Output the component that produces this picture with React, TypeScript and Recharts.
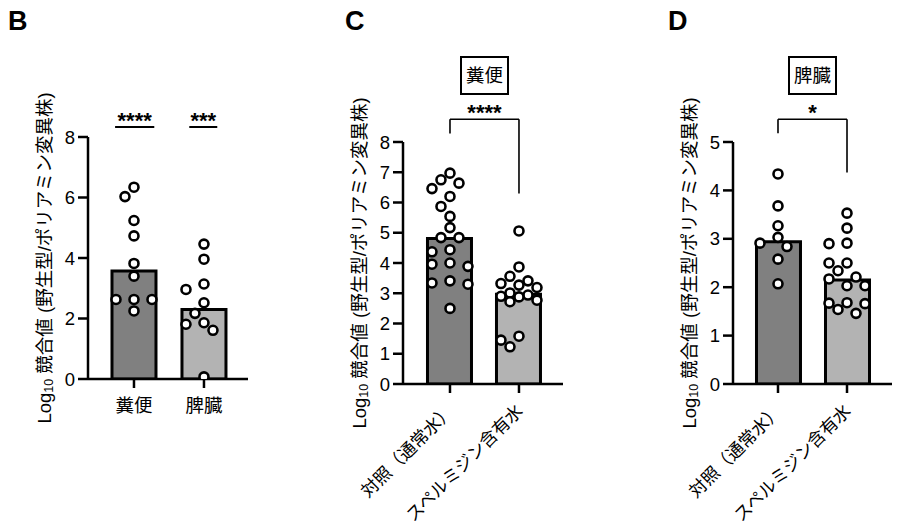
import React from 'react';
import { ComposedChart, Bar, Cell, Scatter, XAxis, YAxis, ReferenceLine } from 'recharts';

const FONT = '"Liberation Sans", Arial, "Noto Sans CJK JP", sans-serif';
const BAR_COLORS = ['#808080', '#b3b3b3'];

// panel B
const bLabels = ['糞便', '脾臓'];
const bMedians = [3.57, 2.3];
const bFeces = [6.34, 6.03, 5.24, 4.73, 3.82, 3.4, 2.63, 2.63, 2.63, 2.25];
const bSpleen = [4.46, 3.96, 3.14, 2.96, 2.52, 2.17, 1.86, 1.81, 1.61, 0.07];
const bStars = ['****', '***'];

// panels C and D share the groups
const groupLabels = ['対照（通常水）', 'スペルミジン含有水'];

// panel C (feces)
const cMedians = [4.81, 2.97];
const cControl = [6.97, 6.75, 6.64, 6.46, 6.2, 5.87, 5.54, 5.17, 4.84, 4.84, 4.44, 4.37, 4.0, 3.96, 3.89, 3.41, 3.34, 3.3, 2.5];
const cSpermidine = [5.06, 3.87, 3.56, 3.41, 3.32, 3.27, 3.19, 3.01, 2.94, 2.9, 2.88, 2.77, 2.72, 1.58, 1.45, 1.23];
const cStars = '****';

// panel D (spleen)
const dMedians = [2.94, 2.15];
const dControl = [4.34, 3.68, 3.27, 3.03, 2.91, 2.84, 2.58, 2.07];
const dSpermidine = [3.53, 3.22, 2.91, 2.9, 2.5, 2.5, 2.34, 2.21, 2.17, 2.03, 2.03, 1.68, 1.67, 1.66, 1.54, 1.46];
const dStars = '*';

const H = 529;
const Y_AXIS_W = 40;
const X_AXIS_H = 60;

// simple beeswarm: try lanes 0, -9, +9, -18, +18 and keep the first free one,
// otherwise the lane with the most room
function swarm(values: number[], pxPerUnit: number) {
  const placed: { x: number; y: number }[] = [];
  const lanes = [0, -9, 9, -18, 18];
  const minDist = 11;
  return values.map((v) => {
    const y = v * pxPerUnit;
    let best = 0;
    let bestRoom = -1;
    for (const dx of lanes) {
      const room = placed.reduce((m, p) => Math.min(m, Math.hypot(p.x - dx, p.y - y)), Infinity);
      if (room >= minDist) {
        best = dx;
        break;
      }
      if (room > bestRoom) {
        bestRoom = room;
        best = dx;
      }
    }
    placed.push({ x: best, y });
    return best;
  });
}

function Dot(props: any) {
  const { cx, cy, payload } = props;
  return <circle cx={cx + payload.dx} cy={cy} r={4.5} fill="#fff" stroke="#000" strokeWidth={2.6} />;
}

function YLabel(props: any) {
  const { viewBox } = props;
  const cx = viewBox.x + viewBox.width - 44;
  const cy = viewBox.y + viewBox.height / 2;
  return (
    <text x={cx} y={cy} transform={`rotate(-90 ${cx} ${cy})`} textAnchor="middle" dominantBaseline="central" fontSize={18.5} fill="#000">
      Log<tspan fontSize={12.5} dy={5}>10</tspan>
      <tspan dy={-5}> 競合値 (野生型/ポリアミン変異株)</tspan>
    </text>
  );
}

function Stars(props: any) {
  const { viewBox, text } = props;
  const x = viewBox.x + viewBox.width / 2;
  return (
    <text x={x} y={viewBox.y + 1} textAnchor="middle" fontSize={22} fontWeight="bold" fill="#000">
      {text}
    </text>
  );
}

function FlatTick(props: any) {
  const { x, y, payload, labels } = props;
  return (
    <text x={x} y={y + 22} textAnchor="middle" fontSize={18.5} fill="#000">
      {labels[payload.value]}
    </text>
  );
}

function SlantTick(props: any) {
  const { x, y, payload, labels } = props;
  const ax = x + 5;
  const ay = y + 17;
  return (
    <text x={ax} y={ay} transform={`rotate(-45 ${ax} ${ay})`} textAnchor="end" fontSize={17.5} fill="#000">
      {labels[payload.value]}
    </text>
  );
}

type PanelProps = {
  left: number;
  width: number;
  plotLeft: number;
  plotRight: number;
  plotTop: number;
  plotBottom: number;
  xDomain: [number, number];
  yMax: number;
  yTicks: number[];
  labels: string[];
  medians: number[];
  groups: number[][];
  slanted: boolean;
  marks: React.ReactNode;
};

function Panel(p: PanelProps) {
  const pxPerUnit = (p.plotBottom - p.plotTop) / p.yMax;
  const barData = p.medians.map((m, i) => ({ x: i, y: m }));
  const dots = p.groups.flatMap((vals, gi) => {
    const offs = swarm(vals, pxPerUnit);
    return vals.map((v, i) => ({ x: gi, y: v, dx: offs[i] }));
  });
  const margin = {
    top: p.plotTop,
    left: p.plotLeft - p.left - Y_AXIS_W,
    right: p.left + p.width - p.plotRight,
    bottom: H - p.plotBottom - X_AXIS_H,
  };
  const Tick = p.slanted ? SlantTick : FlatTick;
  return (
    <div style={{ position: 'absolute', left: p.left, top: 0 }}>
      <ComposedChart width={p.width} height={H} data={barData} margin={margin} style={{ fontFamily: FONT }}>
        <XAxis
          type="number"
          dataKey="x"
          domain={p.xDomain}
          ticks={[0, 1]}
          interval={0}
          allowDataOverflow
          height={X_AXIS_H}
          axisLine={{ stroke: '#000', strokeWidth: 2.5 }}
          tickLine={{ stroke: '#000', strokeWidth: 2.5 }}
          tickSize={9}
          tick={<Tick labels={p.labels} />}
        />
        <YAxis
          type="number"
          domain={[0, p.yMax]}
          ticks={p.yTicks}
          allowDataOverflow
          width={Y_AXIS_W}
          axisLine={{ stroke: '#000', strokeWidth: 2.5 }}
          tickLine={{ stroke: '#000', strokeWidth: 2.5 }}
          tickSize={10}
          tickMargin={3}
          tick={{ fontSize: 18.5, fill: '#000' }}
          label={<YLabel />}
        />
        <Bar dataKey="y" barSize={44} stroke="#000" strokeWidth={3} isAnimationActive={false}>
          {barData.map((d, i) => (
            <Cell key={i} fill={BAR_COLORS[i]} />
          ))}
        </Bar>
        <Scatter data={dots} dataKey="y" shape={<Dot />} isAnimationActive={false} />
        {p.marks}
      </ComposedChart>
    </div>
  );
}

const lineStyle = { stroke: '#000', strokeWidth: 1.6, ifOverflow: 'visible' as const };

function bracket(top: number, leftEnd: number, rightEnd: number, stars: string) {
  return [
    <ReferenceLine key="l" segment={[{ x: 0, y: leftEnd }, { x: 0, y: top }]} {...lineStyle} />,
    <ReferenceLine key="t" segment={[{ x: 0, y: top }, { x: 1, y: top }]} {...lineStyle} label={<Stars text={stars} />} />,
    <ReferenceLine key="r" segment={[{ x: 1, y: top }, { x: 1, y: rightEnd }]} {...lineStyle} />,
  ];
}

function TitleBox({ left, text }: { left: number; text: string }) {
  return (
    <div
      style={{
        position: 'absolute',
        left,
        top: 56,
        width: 49,
        height: 39,
        boxSizing: 'border-box',
        border: '2px solid #000',
        fontSize: 18.5,
        lineHeight: '35px',
        textAlign: 'center',
      }}
    >
      {text}
    </div>
  );
}

function Letter({ left, text }: { left: number; text: string }) {
  return (
    <div style={{ position: 'absolute', left, top: 8, fontSize: 27, fontWeight: 'bold', lineHeight: 1 }}>{text}</div>
  );
}

export default function App() {
  const bMarks = [
    <ReferenceLine key="b1" segment={[{ x: -0.27, y: 8.33 }, { x: 0.29, y: 8.33 }]} {...lineStyle} strokeWidth={2} label={<Stars text={bStars[0]} />} />,
    <ReferenceLine key="b2" segment={[{ x: 0.79, y: 8.33 }, { x: 1.19, y: 8.33 }]} {...lineStyle} strokeWidth={2} label={<Stars text={bStars[1]} />} />,
  ];
  return (
    <div style={{ position: 'absolute', left: 0, top: 0, width: 900, height: H, background: '#fff', fontFamily: FONT, color: '#000' }}>
      <Panel
        left={0}
        width={260}
        plotLeft={88}
        plotRight={248}
        plotTop={137}
        plotBottom={379}
        xDomain={[-0.657, 1.629]}
        yMax={8}
        yTicks={[0, 2, 4, 6, 8]}
        labels={bLabels}
        medians={bMedians}
        groups={[bFeces, bSpleen]}
        slanted={false}
        marks={bMarks}
      />
      <Panel
        left={300}
        width={280}
        plotLeft={403}
        plotRight={563}
        plotTop={142}
        plotBottom={384}
        xDomain={[-0.681, 1.638]}
        yMax={8}
        yTicks={[0, 1, 2, 3, 4, 5, 6, 7, 8]}
        labels={groupLabels}
        medians={cMedians}
        groups={[cControl, cSpermidine]}
        slanted
        marks={bracket(8.75, 8.28, 6.3, cStars)}
      />
      <Panel
        left={620}
        width={280}
        plotLeft={733}
        plotRight={892}
        plotTop={142}
        plotBottom={384}
        xDomain={[-0.652, 1.652]}
        yMax={5}
        yTicks={[0, 1, 2, 3, 4, 5]}
        labels={groupLabels}
        medians={dMedians}
        groups={[dControl, dSpermidine]}
        slanted
        marks={bracket(5.47, 5.18, 4.37, dStars)}
      />
      <Letter left={8} text="B" />
      <Letter left={345} text="C" />
      <Letter left={668} text="D" />
      <TitleBox left={460} text="糞便" />
      <TitleBox left={788} text="脾臓" />
    </div>
  );
}
